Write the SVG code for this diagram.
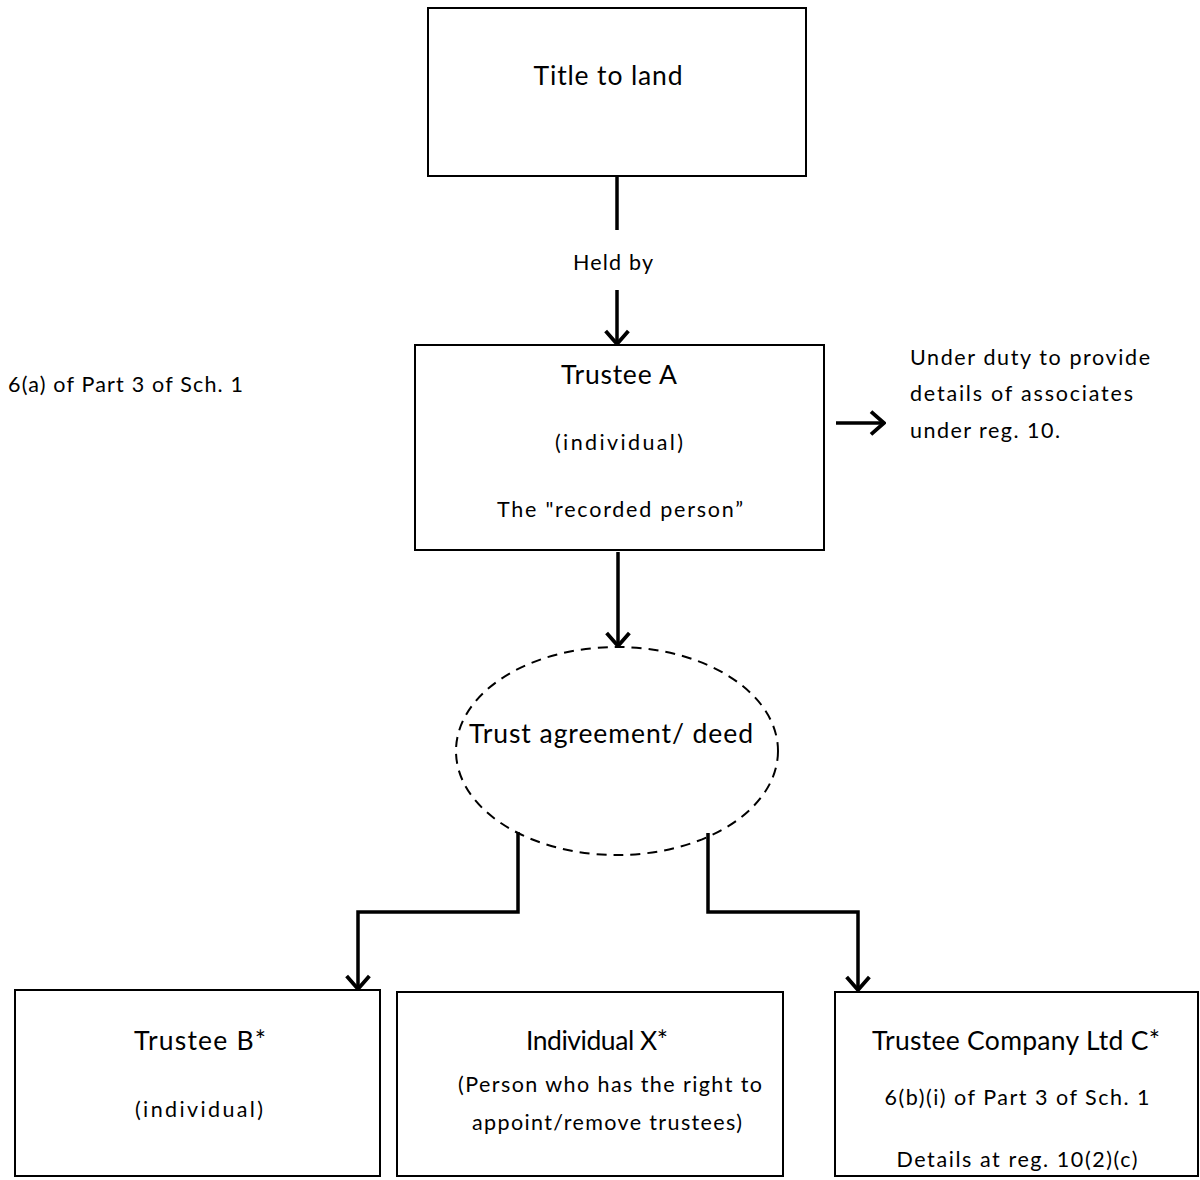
<svg xmlns="http://www.w3.org/2000/svg" width="1200" height="1180" viewBox="0 0 1200 1180">
  <style>
    .box { fill: #ffffff; stroke: #000000; stroke-width: 2; }
    .oval { fill: none; stroke: #000000; stroke-width: 2; stroke-dasharray: 10 7; }
    .wire { fill: none; stroke: #000000; stroke-width: 3.5; }
    .t { font-family: Lato, "Open Sans", "Liberation Sans", sans-serif; fill: #000000; }
    .big { font-size: 26.5px; }
    .small { font-size: 21.5px; }
    .mid { text-anchor: middle; }
  </style>
  <defs>
    <!-- open V arrowhead, tip on the line end -->
    <marker id="vhead" markerUnits="userSpaceOnUse" markerWidth="26" markerHeight="26" refX="22" refY="12" orient="auto" viewBox="0 0 24 24">
      <path d="M10,1.5 L22,12 L10,22.5" fill="none" stroke="#000000" stroke-width="3.5"/>
    </marker>
  </defs>

  <!-- connectors -->
  <g id="connectors">
    <line class="wire" x1="617" y1="177" x2="617" y2="230"/>
    <text class="t small mid" x="613" y="270" textLength="80" lengthAdjust="spacing">Held by</text>
    <line class="wire" x1="617" y1="290" x2="617" y2="344" marker-end="url(#vhead)"/>
    <line class="wire" x1="836" y1="423" x2="884" y2="423" marker-end="url(#vhead)"/>
    <line class="wire" x1="618" y1="552" x2="618" y2="646" marker-end="url(#vhead)"/>
    <polyline class="wire" points="518,832 518,912 358,912 358,989" marker-end="url(#vhead)"/>
    <polyline class="wire" points="708,833 708,912 858,912 858,990" marker-end="url(#vhead)"/>
  </g>

  <g id="title-to-land">
    <rect class="box" x="428" y="8" width="378" height="168"/>
    <text class="t big mid" x="608" y="85" textLength="149" lengthAdjust="spacing">Title to land</text>
  </g>

  <g id="trustee-a">
    <rect class="box" x="415" y="345" width="409" height="205"/>
    <text class="t big mid" x="619" y="384" textLength="116" lengthAdjust="spacing">Trustee A</text>
    <text class="t small mid" x="619" y="450" textLength="128" lengthAdjust="spacing">(individual)</text>
    <text class="t small mid" x="620" y="517" textLength="246" lengthAdjust="spacing">The "recorded person”</text>
  </g>

  <g id="note-part3">
    <text class="t small" x="8" y="392" textLength="235" lengthAdjust="spacing">6(a) of Part 3 of Sch. 1</text>
  </g>

  <g id="note-duty">
    <text class="t small" x="910" y="365" textLength="240" lengthAdjust="spacing">Under duty to provide</text>
    <text class="t small" x="910" y="401" textLength="223" lengthAdjust="spacing">details of associates</text>
    <text class="t small" x="910" y="438" textLength="150" lengthAdjust="spacing">under reg. 10.</text>
  </g>

  <g id="trust-deed">
    <ellipse class="oval" cx="617" cy="751" rx="161" ry="104"/>
    <text class="t big mid" x="611" y="743" textLength="284" lengthAdjust="spacing">Trust agreement/ deed</text>
  </g>

  <g id="trustee-b">
    <rect class="box" x="15" y="990" width="365" height="186"/>
    <text class="t big mid" x="200" y="1050" textLength="132" lengthAdjust="spacing">Trustee B*</text>
    <text class="t small mid" x="199" y="1117" textLength="128" lengthAdjust="spacing">(individual)</text>
  </g>

  <g id="individual-x">
    <rect class="box" x="397" y="992" width="386" height="184"/>
    <text class="t big mid" x="597" y="1050" textLength="142" lengthAdjust="spacing">Individual X*</text>
    <text class="t small mid" x="610" y="1092" textLength="304" lengthAdjust="spacing">(Person who has the right to</text>
    <text class="t small mid" x="607" y="1130" textLength="270" lengthAdjust="spacing">appoint/remove trustees)</text>
  </g>

  <g id="trustee-company-c">
    <rect class="box" x="835" y="992" width="363" height="184"/>
    <text class="t big mid" x="1016" y="1050" textLength="288" lengthAdjust="spacing">Trustee Company Ltd C*</text>
    <text class="t small mid" x="1017" y="1105" textLength="265" lengthAdjust="spacing">6(b)(i) of Part 3 of Sch. 1</text>
    <text class="t small mid" x="1017" y="1167" textLength="241" lengthAdjust="spacing">Details at reg. 10(2)(c)</text>
  </g>
</svg>
